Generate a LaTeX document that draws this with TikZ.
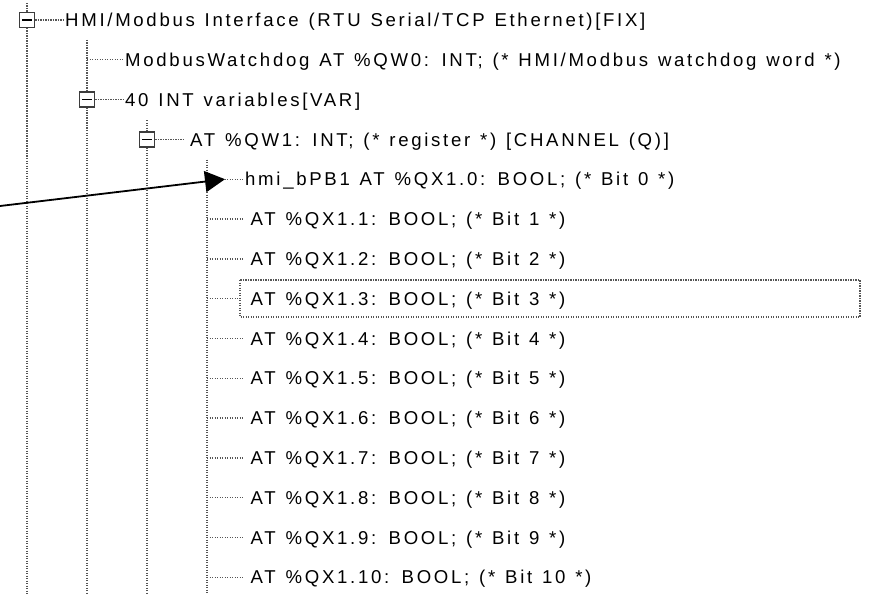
\documentclass[tikz,border=0pt]{standalone}
\usepackage{fontspec}
\setmainfont{Liberation Sans}[LetterSpace=14.5,WordSpace=1.25]
\usetikzlibrary{arrows.meta}
\definecolor{treegray}{RGB}{85,85,85}
\definecolor{boxgray}{RGB}{60,60,60}
\begin{document}
\begin{tikzpicture}[x=1pt,y=-1pt,
  tree/.style={draw=treegray, line width=1.4pt, dash pattern=on 1.3pt off 1.2pt},
  lbl/.style={anchor=west, inner sep=0pt, text height=13.3pt, text depth=0pt,
              font=\fontsize{18.6pt}{20pt}\selectfont, text=black},
  expander/.style={draw=boxgray, fill=white, line width=1.4pt,
                   minimum width=15pt, minimum height=15pt, inner sep=0pt},
  minus/.style={draw=black, line width=1.6pt},
  focusrect/.style={draw=treegray, line width=1.3pt, dash pattern=on 1.2pt off 1.3pt},
  pointer/.style={draw=black, line width=1.8pt, -{Triangle[length=20pt,width=21pt]}}]
\useasboundingbox (0,0) rectangle (873,594);

% vertical tree guides
\coordinate (v0t) at (27,3);      \coordinate (v0b) at (27,594);
\coordinate (v1t) at (87,40);     \coordinate (v1b) at (87,594);
\coordinate (v2t) at (147,120);   \coordinate (v2b) at (147,594);
\coordinate (v3t) at (207,159.5); \coordinate (v3b) at (207,594);
\draw[tree] (v0t) -- (v0b);
\draw[tree] (v1t) -- (v1b);
\draw[tree] (v2t) -- (v2b);
\draw[tree] (v3t) -- (v3b);

% expander boxes
\node[expander] (b0) at (27,20) {};
\node[expander] (b2) at (87,99.6) {};
\node[expander] (b3) at (147,139.4) {};
\draw[minus] ([xshift=3.5pt]b0.west) -- ([xshift=-3.5pt]b0.east);
\draw[minus] ([xshift=3.5pt]b2.west) -- ([xshift=-3.5pt]b2.east);
\draw[minus] ([xshift=3.5pt]b3.west) -- ([xshift=-3.5pt]b3.east);

% labels
\node[lbl] (r0) at (65,20) {HMI/Modbus Interface (RTU Serial/TCP Ethernet)[FIX]};
\node[lbl] (r1) at (125,59.8) {ModbusWatchdog AT \%QW0: INT; (* HMI/Modbus watchdog word *)};
\node[lbl] (r2) at (125,99.6) {40 INT variables[VAR]};
\node[lbl] (r3) at (185,139.4) {\hspace*{5pt}AT \%QW1: INT; (* register *) [CHANNEL (Q)]};
\node[lbl] (r4) at (245,179.2) {hmi\_bPB1 AT \%QX1.0: BOOL; (* Bit 0 *)};
\node[lbl] (r5) at (245,219) {\hspace*{5.5pt}AT \%QX1.1: BOOL; (* Bit 1 *)};
\node[lbl] (r6) at (245,258.8) {\hspace*{5.5pt}AT \%QX1.2: BOOL; (* Bit 2 *)};
\node[lbl] (r7) at (245,298.6) {\hspace*{5.5pt}AT \%QX1.3: BOOL; (* Bit 3 *)};
\node[lbl] (r8) at (245,338.4) {\hspace*{5.5pt}AT \%QX1.4: BOOL; (* Bit 4 *)};
\node[lbl] (r9) at (245,378.2) {\hspace*{5.5pt}AT \%QX1.5: BOOL; (* Bit 5 *)};
\node[lbl] (r10) at (245,418) {\hspace*{5.5pt}AT \%QX1.6: BOOL; (* Bit 6 *)};
\node[lbl] (r11) at (245,457.8) {\hspace*{5.5pt}AT \%QX1.7: BOOL; (* Bit 7 *)};
\node[lbl] (r12) at (245,497.6) {\hspace*{5.5pt}AT \%QX1.8: BOOL; (* Bit 8 *)};
\node[lbl] (r13) at (245,537.4) {\hspace*{5.5pt}AT \%QX1.9: BOOL; (* Bit 9 *)};
\node[lbl] (r14) at (245,577.2) {\hspace*{5.5pt}AT \%QX1.10: BOOL; (* Bit 10 *)};

% horizontal connectors
\draw[tree] (b0.east) -- ([xshift=-2pt]r0.west);
\coordinate (h1) at (87,59.8);
\draw[tree] (h1) -- ([xshift=-2pt]r1.west);
\draw[tree] (b2.east) -- ([xshift=-2pt]r2.west);
\draw[tree] (b3.east) -- ([xshift=-2pt]r3.west);
\foreach \r/\y in {4/179.2,5/219,6/258.8,8/338.4,9/378.2,10/418,11/457.8,12/497.6,13/537.4,14/577.2}{
  \coordinate (h\r) at (207,\y);
  \draw[tree] (h\r) -- ([xshift=-2pt]r\r.west);
}
\coordinate (h7) at (207,298.6);
\coordinate (f7) at (240,298.6);
\draw[tree] (h7) -- (f7);

% focus rectangle around the selected row
\draw[focusrect] (240,280) rectangle (860,317);

% pointer arrow
\coordinate (tail) at (0,206);
\coordinate (tip) at ([xshift=-20pt]r4.west);
\draw[pointer] (tail) -- (tip);
\end{tikzpicture}
\end{document}
